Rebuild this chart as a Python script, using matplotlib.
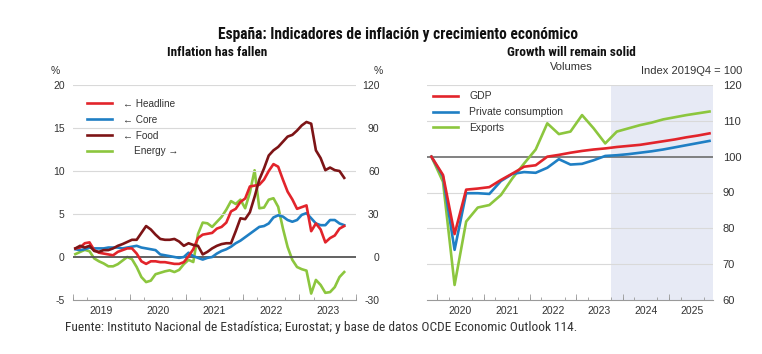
import numpy as np
import matplotlib
matplotlib.use("Agg")
import matplotlib.pyplot as plt

# ---------------- data ----------------
# Monthly, Jan 2019 - Oct 2023 (year-on-year %, Spain)
headline = [1.0, 1.1, 1.6, 1.7, 0.8, 0.5, 0.4, 0.3, 0.2, 0.6, 0.8, 1.0,
            1.0, 0.4, -0.5, -0.8, -0.5, -0.5, -0.6, -0.6, -0.7, -0.8, -0.8, -0.6,
            0.1, 0.9, 2.2, 2.6, 2.7, 2.8, 3.3, 3.5, 4.0, 5.3, 5.6, 6.4,
            6.8, 8.2, 8.3, 8.4, 9.0, 10.0, 10.8, 10.5, 9.0, 7.6, 6.7, 5.6,
            5.8, 6.0, 3.0, 3.9, 3.2, 1.7, 2.2, 2.5, 3.3, 3.6]
core = [0.9, 0.8, 0.9, 1.1, 1.0, 1.0, 1.0, 1.1, 1.1, 1.1, 1.0, 1.1,
        1.2, 1.3, 1.1, 1.0, 0.9, 0.8, 0.3, 0.2, 0.1, 0.0, -0.1, 0.0,
        0.5, 0.1, -0.1, -0.3, -0.1, 0.0, 0.4, 0.7, 0.9, 1.2, 1.6, 1.9,
        2.3, 2.7, 3.1, 3.5, 3.6, 3.9, 4.6, 4.85, 4.7, 4.3, 4.1, 4.3,
        4.9, 5.1, 4.5, 3.9, 3.7, 3.7, 4.3, 4.3, 3.9, 3.7]
food = [1.0, 1.3, 1.1, 1.3, 0.7, 0.6, 0.8, 0.8, 1.0, 1.3, 1.5, 1.75,
        2.0, 2.0, 2.8, 3.6, 3.2, 2.6, 2.1, 2.0, 2.0, 2.1, 1.8, 1.3,
        1.6, 1.4, 1.3, 0.3, 0.6, 1.0, 1.3, 1.5, 1.6, 1.6, 3.0, 4.5,
        4.4, 5.2, 7.0, 9.0, 10.3, 11.8, 12.4, 12.8, 13.4, 14.0, 14.2, 14.7,
        15.3, 15.7, 15.5, 12.4, 11.5, 10.1, 10.4, 10.1, 10.0, 9.2]
energy = [2, 3.5, 5, 4, -1, -3, -4.5, -6.5, -6.5, -5, -2.5, 0,
          -1.5, -7, -14, -17.5, -16.5, -12, -11, -10, -9.3, -10.5, -9, -5,
          -2, -3.5, 16, 24, 23.5, 21, 24.5, 28, 33, 39, 37, 40,
          34, 45, 60.5, 34, 34.5, 40, 41, 35, 20, 7, -2, -7,
          -8.5, -9.5, -25.5, -16, -19.5, -25, -24.5, -21, -14, -10.5]

# Quarterly, 2019Q4 - 2025Q4, index 2019Q4 = 100
gdp = [100, 94.9, 78.4, 90.8, 91.1, 91.5, 93.5, 95.3, 97.2, 97.6, 100.0, 100.5,
       101.1, 101.6, 102.0, 102.3, 102.7, 103.0, 103.3, 103.8, 104.3, 104.8,
       105.4, 105.9, 106.5]
private_consumption = [100, 94.5, 74.0, 89.8, 89.8, 89.6, 93.2, 95.2, 95.7, 95.5, 96.9, 99.3,
                       97.8, 98.0, 99.0, 100.2, 100.4, 100.7, 101.1, 101.5, 102.0, 102.6,
                       103.2, 103.8, 104.4]
exports = [100, 93.0, 64.2, 81.9, 85.8, 86.5, 89.3, 94.0, 98.1, 102.0, 109.3, 106.3,
           107.0, 111.6, 107.9, 103.7, 107.0, 107.9, 108.8, 109.5, 110.4, 111.0,
           111.6, 112.1, 112.6]

left_years = [2019, 2020, 2021, 2022, 2023]
right_years = [2020, 2021, 2022, 2023, 2024, 2025]
left_yticks = [-5, 0, 5, 10, 15, 20]
energy_yticks = [-30, 0, 30, 60, 90, 120]
right_yticks = [60, 70, 80, 90, 100, 110, 120]

title = "España: Indicadores de inflación y crecimiento económico"
left_title = "Inflation has fallen"
right_title = "Growth will remain solid"
source = "Fuente: Instituto Nacional de Estadística; Eurostat; y base de datos OCDE Economic Outlook 114."

# ---------------- style ----------------
COND = ["Roboto Condensed", "DejaVu Sans"]
SANS = ["Liberation Sans", "DejaVu Sans"]
plt.rcParams["font.family"] = SANS

RED = "#e2242b"
BLUE = "#1f7fc4"
DARKRED = "#7d1416"
GREEN = "#8cc63e"
GRID = "#d9d9d9"
ZERO = "#555555"
TXT = "#333333"
SHADE = "#e7eaf5"
TICKC = "#9a9a9a"

W, H = 762, 354
fig = plt.figure(figsize=(W / 100, H / 100), dpi=100)


def rect(x0, x1, ytop, ybot):
    return [x0 / W, 1 - ybot / H, (x1 - x0) / W, (ybot - ytop) / H]


def style_axis(ax):
    for s in ["left", "right", "top"]:
        ax.spines[s].set_visible(False)
    ax.spines["bottom"].set_color(TICKC)
    ax.spines["bottom"].set_linewidth(0.8)


# ---------------- left panel ----------------
axL = fig.add_axes(rect(73, 356, 85, 300))
axE = axL.twinx()
t_m = 2019 + (np.arange(len(headline)) + 0.5) / 12

axL.set_xlim(2019, 2024)
axL.set_ylim(-5, 20)
axE.set_ylim(-30, 120)
for v in left_yticks[2:]:
    axL.axhline(v, color=GRID, lw=0.8, zorder=0)
axL.axhline(0, color=ZERO, lw=1.3, zorder=1)

lH, = axL.plot(t_m, headline, color=RED, lw=1.9, zorder=4, label="\u2190 Headline")
lC, = axL.plot(t_m, core, color=BLUE, lw=1.9, zorder=3, label="\u2190 Core")
lF, = axL.plot(t_m, food, color=DARKRED, lw=1.9, zorder=5, label="\u2190 Food")
lE, = axE.plot(t_m, energy, color=GREEN, lw=1.9, zorder=2, label="    Energy \u2192")
axE.set_zorder(axL.get_zorder() - 1)
axL.patch.set_visible(False)

style_axis(axL)
style_axis(axE)
axE.spines["bottom"].set_visible(False)
axL.set_yticks(left_yticks)
axL.set_yticklabels([str(v) for v in left_yticks])
axE.set_yticks(energy_yticks)
axE.set_yticklabels([str(v) for v in energy_yticks])
axL.tick_params(axis="y", length=0, pad=6, labelsize=7.5, labelcolor=TXT)
axE.tick_params(axis="y", length=0, pad=17, labelsize=7.5, labelcolor=TXT)
for lab in axE.get_yticklabels():
    lab.set_horizontalalignment("right")

axL.set_xticks([y + 0.5 for y in left_years])
axL.set_xticklabels([str(y) for y in left_years])
axL.set_xticks(np.arange(2019, 2024.01, 0.25), minor=True)
axL.tick_params(axis="x", which="major", length=0, pad=4, labelsize=7.5, labelcolor=TXT)
axL.tick_params(axis="x", which="minor", length=2.5, width=0.6, color=TICKC, direction="in")
secL = axL.secondary_xaxis("bottom")
secL.set_xticks(np.arange(2019, 2024.01, 1))
secL.set_xticklabels([])
secL.tick_params(length=4.5, width=0.6, color=TICKC, direction="in")
secL.spines["bottom"].set_visible(False)

legL = axL.legend(handles=[lH, lC, lF, lE], loc="upper left",
                  bbox_to_anchor=(0.049, 0.935), frameon=False, fontsize=7.2,
                  handlelength=2.5, handletextpad=1.1, labelspacing=0.58,
                  borderpad=0, borderaxespad=0)
for t in legL.get_texts():
    t.set_color(TXT)

fig.text(55 / W, 1 - 71 / H, "%", fontsize=7.5, color=TXT, ha="center", va="center")
fig.text(378 / W, 1 - 71 / H, "%", fontsize=7.5, color=TXT, ha="center", va="center")

# ---------------- right panel ----------------
axR = fig.add_axes(rect(427, 713, 85, 300))
t_q = 2019.875 + 0.25 * np.arange(len(gdp))
axR.set_xlim(2019.78, 2025.95)
axR.set_ylim(60, 120)
axR.axvspan(2023.75, 2025.95, color=SHADE, lw=0, zorder=0)
for v in [70, 80, 90, 110, 120]:
    axR.axhline(v, color=GRID, lw=0.8, zorder=0.5)
axR.axhline(100, color="#777777", lw=1.3, zorder=1)
lG, = axR.plot(t_q, gdp, color=RED, lw=1.9, zorder=4, label="GDP")
lP, = axR.plot(t_q, private_consumption, color=BLUE, lw=1.9, zorder=3, label="Private consumption")
lX, = axR.plot(t_q, exports, color=GREEN, lw=1.9, zorder=2, label="Exports")
style_axis(axR)
axR.yaxis.tick_right()
axR.set_yticks(right_yticks)
axR.tick_params(axis="y", length=0, pad=7, labelsize=8, labelcolor=TXT)
axR.set_xticks([y + 0.5 for y in right_years])
axR.set_xticklabels([str(y) for y in right_years])
axR.set_xticks(np.arange(2020, 2025.96, 0.25), minor=True)
axR.tick_params(axis="x", which="major", length=0, pad=4, labelsize=7.5, labelcolor=TXT)
axR.tick_params(axis="x", which="minor", length=2.5, width=0.6, color=TICKC, direction="in")
secR = axR.secondary_xaxis("bottom")
secR.set_xticks(np.arange(2020, 2026, 1))
secR.set_xticklabels([])
secR.tick_params(length=4.5, width=0.6, color=TICKC, direction="in")
secR.spines["bottom"].set_visible(False)

legR = axR.legend(handles=[lG, lP, lX], loc="upper left",
                  bbox_to_anchor=(0.02, 0.97), frameon=False, fontsize=7.5,
                  handlelength=2.4, handletextpad=1.1, labelspacing=0.55,
                  borderpad=0, borderaxespad=0)
for t in legR.get_texts():
    t.set_color(TXT)

fig.text(571 / W, 1 - 67 / H, "Volumes", fontsize=8, color=TXT, ha="center", va="center")
fig.text(742 / W, 1 - 71 / H, "Index 2019Q4 = 100", fontsize=8, color=TXT, ha="right", va="center")

# ---------------- titles ----------------
fig.text(398 / W, 1 - 35 / H, title, fontsize=11.2, fontweight="bold", color="#111111",
         ha="center", va="center", family=COND)
fig.text(217 / W, 1 - 52 / H, left_title, fontsize=9.6, fontweight="bold", color="#111111",
         ha="center", va="center", family=COND)
fig.text(571 / W, 1 - 52 / H, right_title, fontsize=9.6, fontweight="bold", color="#111111",
         ha="center", va="center", family=COND)
fig.text(65 / W, 1 - 327 / H, source, fontsize=9.6, color="#333333",
         ha="left", va="center", family=COND)

fig.savefig("out.png", dpi=100)
